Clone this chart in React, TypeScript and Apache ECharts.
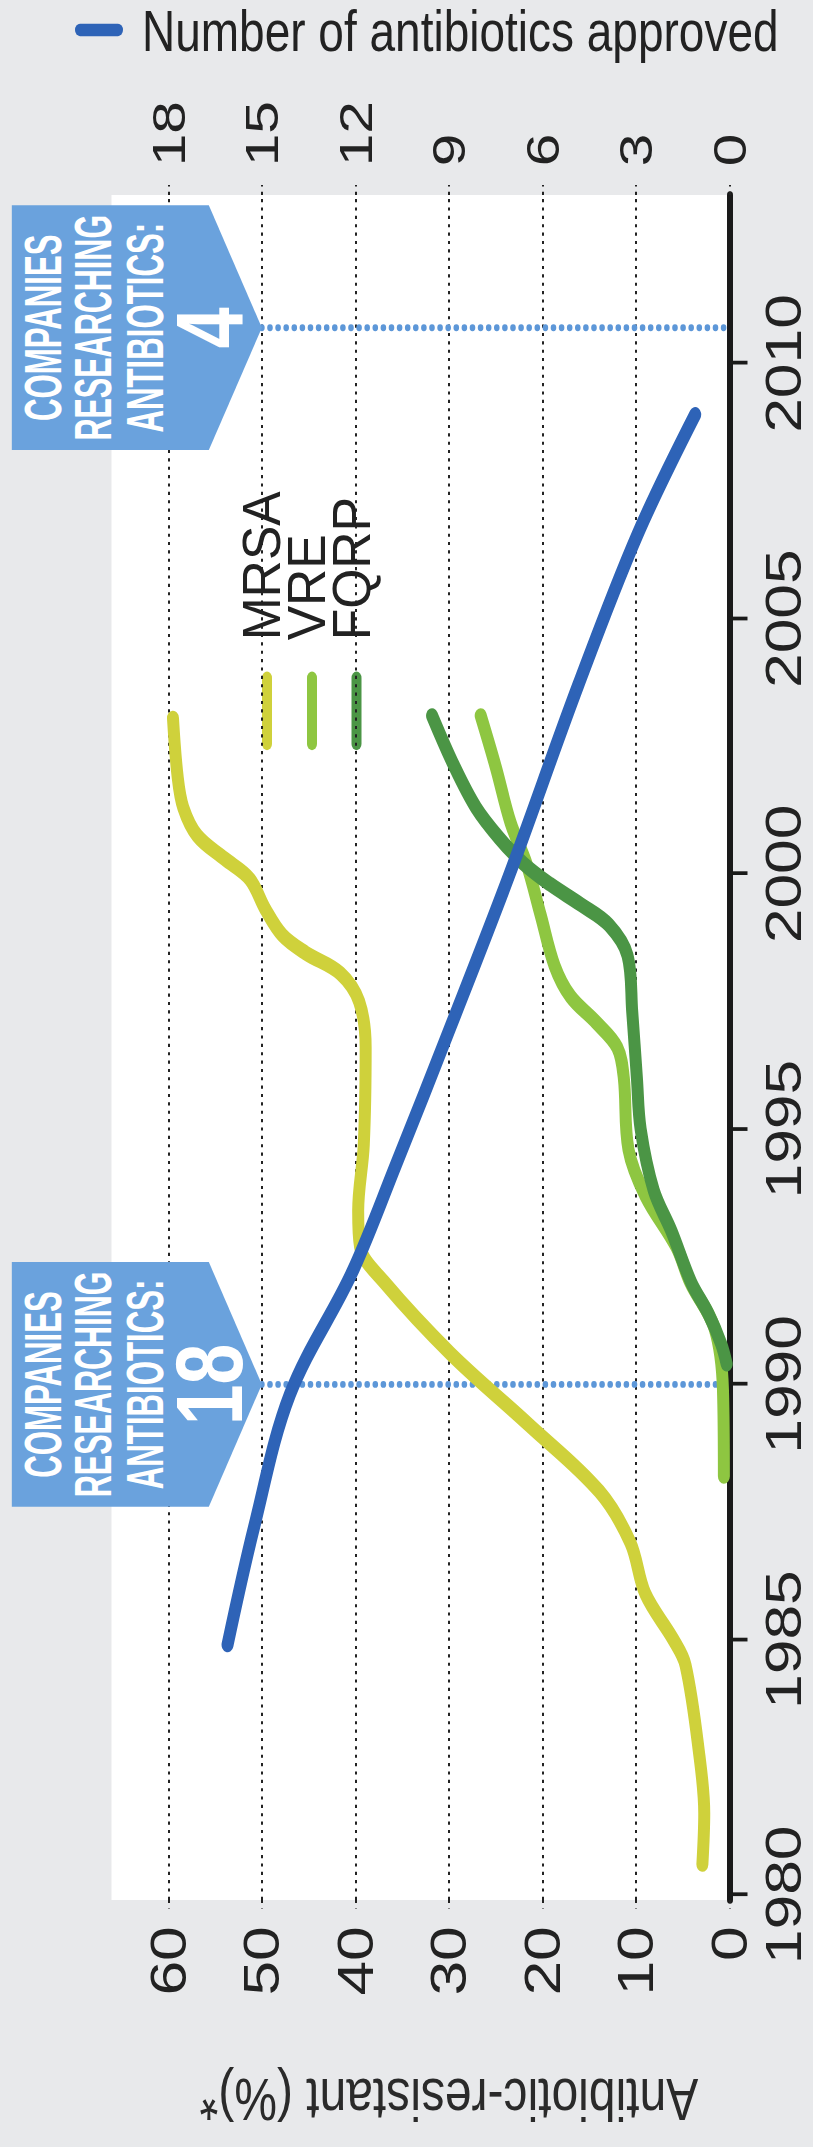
import React, { useEffect, useRef } from "react";
import * as echarts from "echarts";

// Year ticks on the time axis
const yearTicks = [1980, 1985, 1990, 1995, 2000, 2005, 2010];

// Share of isolates that are antibiotic-resistant (%), [year, percent]
const mrsa: [number, number][] = [
  [1980.6, 2.9], [1981.6, 2.7], [1982.7, 3.2], [1984.5, 4.7], [1985.0, 6.0],
  [1985.9, 9.0], [1986.9, 10.6], [1987.9, 13.9], [1989.2, 21.4], [1990.6, 29.8],
  [1992.0, 36.9], [1992.7, 39.5], [1993.4, 39.7], [1994.7, 39.1], [1996.6, 38.9],
  [1997.5, 39.6], [1998.05, 41.6], [1998.45, 45.3], [1998.8, 47.8], [1999.3, 49.6],
  [1999.9, 51.3], [2000.3, 54.0], [2000.75, 56.9], [2001.3, 58.4], [2001.9, 59.0],
  [2003.05, 59.5],
];
const vre: [number, number][] = [
  [1988.2, 0.6], [1989.9, 0.7], [1991.1, 1.6], [1992.0, 4.2], [1992.7, 5.7],
  [1993.7, 9.0], [1994.6, 10.8], [1996.0, 11.3], [1996.6, 12.0], [1997.1, 14.3],
  [1997.6, 17.0], [1998.2, 18.7], [1999.2, 20.2], [2000.2, 21.7], [2001.0, 23.4],
  [2002.1, 25.0], [2003.1, 26.6],
];
const fqrp: [number, number][] = [
  [1990.4, 0.3], [1990.8, 0.9], [1991.4, 2.3], [1992.0, 4.1], [1993.0, 6.2],
  [1993.8, 8.1], [1995.0, 9.5], [1996.0, 9.9], [1997.3, 10.4], [1998.4, 10.9],
  [1999.0, 12.9], [1999.4, 15.9], [1999.8, 19.2], [2000.2, 22.0], [2000.7, 24.6],
  [2001.3, 27.1], [2002.1, 29.4], [2003.1, 31.8],
];

// Number of antibiotics approved (right axis), [year, count]
const approved: [number, number][] = [
  [1984.9, 16.1], [1987.2, 15.25], [1989.8, 14.1], [1992.2, 12.1], [1994.3, 10.7],
  [1997.0, 8.95], [2000.0, 7.05], [2003.7, 4.85], [2006.65, 2.95], [2009.0, 1.1],
];

// Call-outs: year and number of companies researching antibiotics
const calloutYears = [1990, 2010.7];
const calloutCompanies = [18, 4];

// Resistance series names, in legend order
const resistanceNames = ["MRSA", "VRE", "FQRP"];

// The chart is laid out in a landscape frame, then turned a quarter turn
// counter-clockwise and stretched to fill the tall page.
const PAGE_W = 813;
const PAGE_H = 2147;
const CHART_W = 1720;
const CHART_H = 813;
const STRETCH = PAGE_H / CHART_W;

const FONT = '"Liberation Sans", Arial, Helvetica, sans-serif';
const INK = "#222222";
const BG = "#e8e9eb";
const C_MRSA = "#cfd13b";
const C_VRE = "#8ec641";
const C_FQRP = "#4b9545";
const C_APPROVED = "#2e63b7";
const C_CALLOUT = "#6aa2dd";
const C_CALLOUT_LINE = "#5d97d8";
const resistanceColors = [C_MRSA, C_VRE, C_FQRP];

// Callout arrows point at this level of the percent axis
const TIP_LEVEL = 50;

const gridLine = { type: [2.5, 4.2], color: INK, width: 2 };

function calloutItem(params: any, api: any) {
  const year = api.value(0);
  const companies = api.value(1);
  const tip = api.coord([year, TIP_LEVEL]);
  const base = api.coord([year, 0]);
  const tx = tip[0];
  const ty = tip[1];
  const hw = 98;
  const top = ty - 250;
  const shoulder = ty - 53;
  const label = (text: string, dy: number, size: number, sx: number) => ({
    type: "text",
    x: tx,
    y: ty + dy,
    scaleX: sx,
    style: {
      text,
      fill: "#ffffff",
      fontFamily: FONT,
      fontWeight: "bold",
      fontSize: size,
      align: "center",
      verticalAlign: "middle",
    },
  });
  return {
    type: "group",
    children: [
      {
        type: "line",
        shape: { x1: tx, y1: ty, x2: base[0], y2: base[1] },
        style: { stroke: C_CALLOUT_LINE, lineWidth: 5.5, lineDash: [0.1, 8], lineCap: "round" },
      },
      {
        type: "polygon",
        shape: {
          points: [
            [tx - hw, top],
            [tx + hw, top],
            [tx + hw, shoulder],
            [tx, ty],
            [tx - hw, shoulder],
          ],
        },
        style: { fill: C_CALLOUT },
      },
      label("COMPANIES", -218, 51, 0.49),
      label("RESEARCHING", -168, 51, 0.48),
      label("ANTIBIOTICS:", -116, 51, 0.49),
      label(String(companies), -53, 95, 0.62),
    ],
  };
}

function lineSeries(name: string, data: [number, number][], color: string, yAxisIndex: number) {
  return {
    type: "line",
    name,
    data,
    yAxisIndex,
    smooth: 0.35,
    symbol: "none",
    silent: true,
    lineStyle: { color, width: 12, cap: "round", join: "round" },
    itemStyle: { color },
    z: 2,
  };
}

function buildOption() {
  const legendRowsY = [267, 312, 356.5];
  const keyGraphics: any[] = [];
  resistanceNames.forEach((name, i) => {
    keyGraphics.push({
      type: "line",
      shape: { x1: 1124, y1: legendRowsY[i], x2: 1177, y2: legendRowsY[i] },
      style: { stroke: resistanceColors[i], lineWidth: 10, lineCap: "round" },
      silent: true,
    });
    keyGraphics.push({
      type: "text",
      x: 1207,
      y: legendRowsY[i] - 5,
      scaleX: 0.78,
      style: {
        text: name,
        fill: INK,
        fontFamily: FONT,
        fontSize: 53,
        align: "left",
        verticalAlign: "middle",
      },
      silent: true,
    });
  });

  return {
    animation: false,
    backgroundColor: BG,
    textStyle: { fontFamily: FONT, color: INK },
    grid: { left: 197.9, right: 156.2, top: 168.3, bottom: 83.5, containLabel: false },
    graphic: [
      {
        type: "rect",
        z: -1,
        silent: true,
        shape: { x: 197.9, y: 111.5, width: 1365.9, height: 618 },
        style: { fill: "#ffffff" },
      },
      {
        type: "line",
        silent: true,
        shape: { x1: 1696, y1: 80, x2: 1696, y2: 118 },
        style: { stroke: C_APPROVED, lineWidth: 10, lineCap: "round" },
      },
      {
        type: "text",
        silent: true,
        x: 1695,
        y: 142,
        rotation: -Math.PI / 2,
        style: {
          text: "Number of antibiotics approved",
          fill: INK,
          fontFamily: FONT,
          fontSize: 46,
          align: "left",
          verticalAlign: "middle",
        },
      },
      ...keyGraphics,
    ],
    xAxis: {
      type: "value",
      min: 1979.9,
      max: 2013.3,
      position: "bottom",
      axisLine: { show: true, onZero: false, lineStyle: { color: "#1a1a1a", width: 6 } },
      axisTick: {
        show: true,
        length: 18,
        customValues: yearTicks,
        lineStyle: { color: "#1a1a1a", width: 3 },
      },
      axisLabel: {
        customValues: yearTicks,
        formatter: (v: number) => String(Math.round(v)),
        fontSize: 50,
        lineHeight: 50,
        margin: 29,
        color: INK,
        fontFamily: FONT,
      },
      splitLine: { show: false },
    },
    yAxis: [
      {
        type: "value",
        min: 0,
        max: 60,
        interval: 10,
        position: "left",
        name: "Antibiotic-resistant (%)*",
        nameLocation: "middle",
        nameGap: 136,
        nameTextStyle: { fontSize: 48, color: "#2a2a2a", fontFamily: FONT },
        axisLine: { show: false },
        axisTick: { show: true, length: 7, lineStyle: gridLine },
        axisLabel: { fontSize: 50, margin: 21, color: INK, fontFamily: FONT },
        splitLine: { show: true, lineStyle: gridLine },
      },
      {
        type: "value",
        min: 0,
        max: 18,
        interval: 3,
        position: "right",
        axisLine: { show: false },
        axisTick: { show: true, length: 8, lineStyle: gridLine },
        axisLabel: { fontSize: 47, margin: 23, color: INK, fontFamily: FONT },
        splitLine: { show: false },
      },
    ],
    series: [
      {
        type: "custom",
        name: "Companies researching antibiotics",
        data: calloutYears.map((y, i) => [y, calloutCompanies[i]]),
        encode: { x: 0, y: 1 },
        clip: false,
        silent: true,
        z: 1,
        renderItem: calloutItem,
      },
      lineSeries("MRSA", mrsa, C_MRSA, 0),
      lineSeries("VRE", vre, C_VRE, 0),
      lineSeries("FQRP", fqrp, C_FQRP, 0),
      lineSeries("Number of antibiotics approved", approved, C_APPROVED, 1),
    ],
  };
}

export default function App() {
  const ref = useRef<HTMLDivElement>(null);

  useEffect(() => {
    if (!ref.current) return;
    const chart = echarts.init(ref.current, null, { renderer: "svg" });
    chart.setOption(buildOption() as any);
    return () => chart.dispose();
  }, []);

  return (
    <div
      style={{
        position: "absolute",
        left: 0,
        top: 0,
        width: PAGE_W,
        height: PAGE_H,
        background: BG,
        overflow: "hidden",
      }}
    >
      <div
        ref={ref}
        style={{
          position: "absolute",
          left: 0,
          top: 0,
          width: CHART_W,
          height: CHART_H,
          transformOrigin: "0 0",
          transform: `translate(0px, ${PAGE_H}px) scale(1, ${STRETCH}) rotate(-90deg)`,
        }}
      />
    </div>
  );
}
